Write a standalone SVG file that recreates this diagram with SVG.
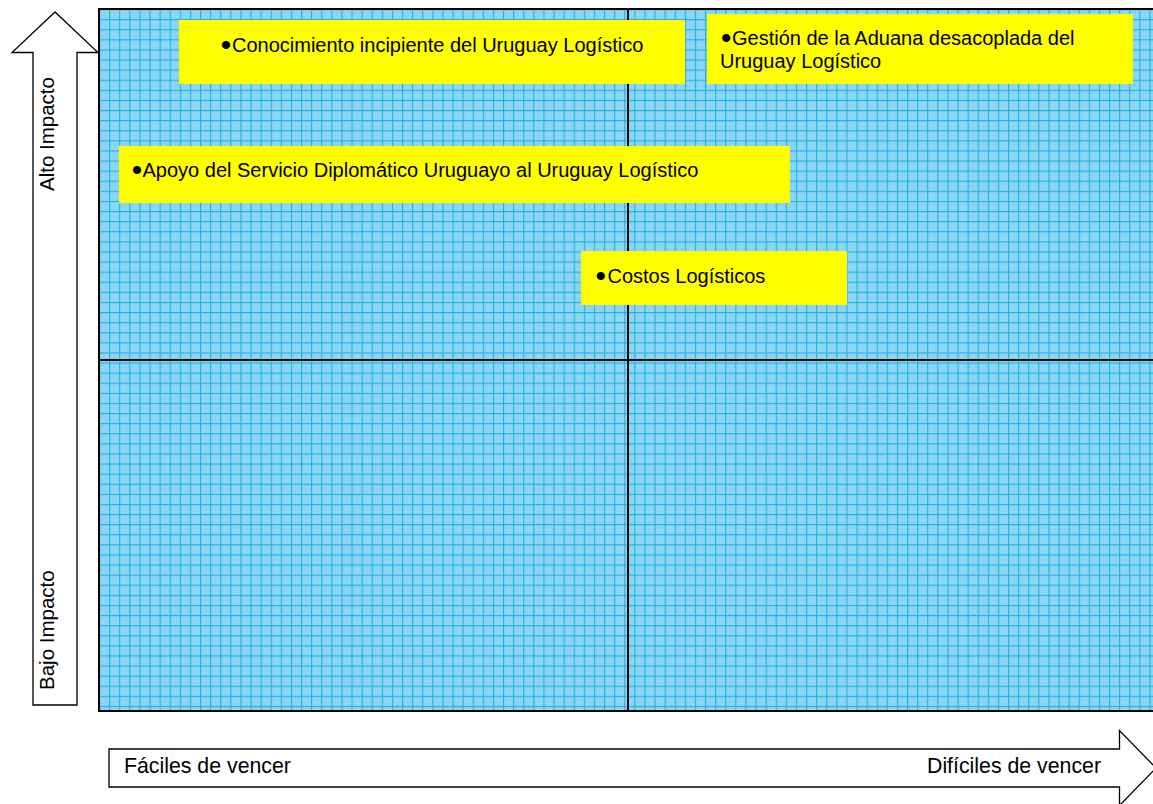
<svg xmlns="http://www.w3.org/2000/svg" width="1153" height="804" viewBox="0 0 1153 804">
<style>
text{font-family:"Liberation Sans",Arial,sans-serif;font-size:20px;fill:#000}
.b{font-size:30px}
.ax{font-size:21.3px}
.ay{font-size:20.5px}
.box{fill:#ffff00;stroke:none}
.quad{fill:url(#grid);stroke:#000;stroke-width:2}
.arrow{fill:#fff;stroke:#000;stroke-width:1.3}
</style>
<defs>
<pattern id="tex" x="0" y="0" width="2" height="2" patternUnits="userSpaceOnUse">
<rect width="2" height="2" fill="#86d4f3"/>
<rect width="1" height="1" fill="#8fd9f5"/>
<rect x="1" y="1" width="1" height="1" fill="#8fd9f5"/>
</pattern>
<pattern id="grid" x="99" y="9" width="10.1" height="10.1" patternUnits="userSpaceOnUse">
<rect width="10.1" height="10.1" fill="url(#tex)"/>
<path d="M0.5 0V10.1M0 0.5H10.1" stroke="#22afe6" stroke-width="1.2" fill="none"/>
</pattern>
</defs>
<g id="axis-y">
<path class="arrow" d="M33 705V52.5H12L55 12L98 52.5H77V705Z"/>
<text class="ay" transform="translate(54,191) rotate(-90)">Alto Impacto</text>
<text class="ay" transform="translate(54,690) rotate(-90)">Bajo Impacto</text>
</g>
<g id="axis-x">
<path class="arrow" d="M109 749H1119.5V730.5L1156 768L1119.5 805.5V787H109Z"/>
<text class="ax" x="124" y="773">Fáciles de vencer</text>
<text class="ax" x="927" y="773">Difíciles de vencer</text>
</g>
<g id="matrix">
<rect class="quad" x="99" y="9" width="529" height="351"/>
<rect class="quad" x="628" y="9" width="528" height="351"/>
<rect class="quad" x="99" y="360" width="529" height="351"/>
<rect class="quad" x="628" y="360" width="528" height="351"/>
</g>
<g id="node-conocimiento">
<rect class="box" x="179" y="20" width="506" height="64"/>
<text y="52"><tspan class="b" x="220.7" dy="3">•</tspan><tspan x="232" dy="-3">Conocimiento incipiente del Uruguay Logístico</tspan></text>
</g>
<g id="node-aduana">
<rect class="box" x="707" y="14" width="426" height="70"/>
<text y="45"><tspan class="b" x="721" dy="3">•</tspan><tspan x="732" dy="-3">Gestión de la Aduana desacoplada del</tspan></text>
<text x="720" y="68">Uruguay Logístico</text>
</g>
<g id="node-apoyo">
<rect class="box" x="119" y="146" width="671" height="57"/>
<text y="177"><tspan class="b" x="131.7" dy="3">•</tspan><tspan x="142.5" dy="-3">Apoyo del Servicio Diplomático Uruguayo al Uruguay Logístico</tspan></text>
</g>
<g id="node-costos">
<rect class="box" x="581" y="251" width="266" height="54"/>
<text y="283"><tspan class="b" x="595.5" dy="3">•</tspan><tspan x="607.5" dy="-3">Costos Logísticos</tspan></text>
</g>
<g id="connectors"/>
</svg>
